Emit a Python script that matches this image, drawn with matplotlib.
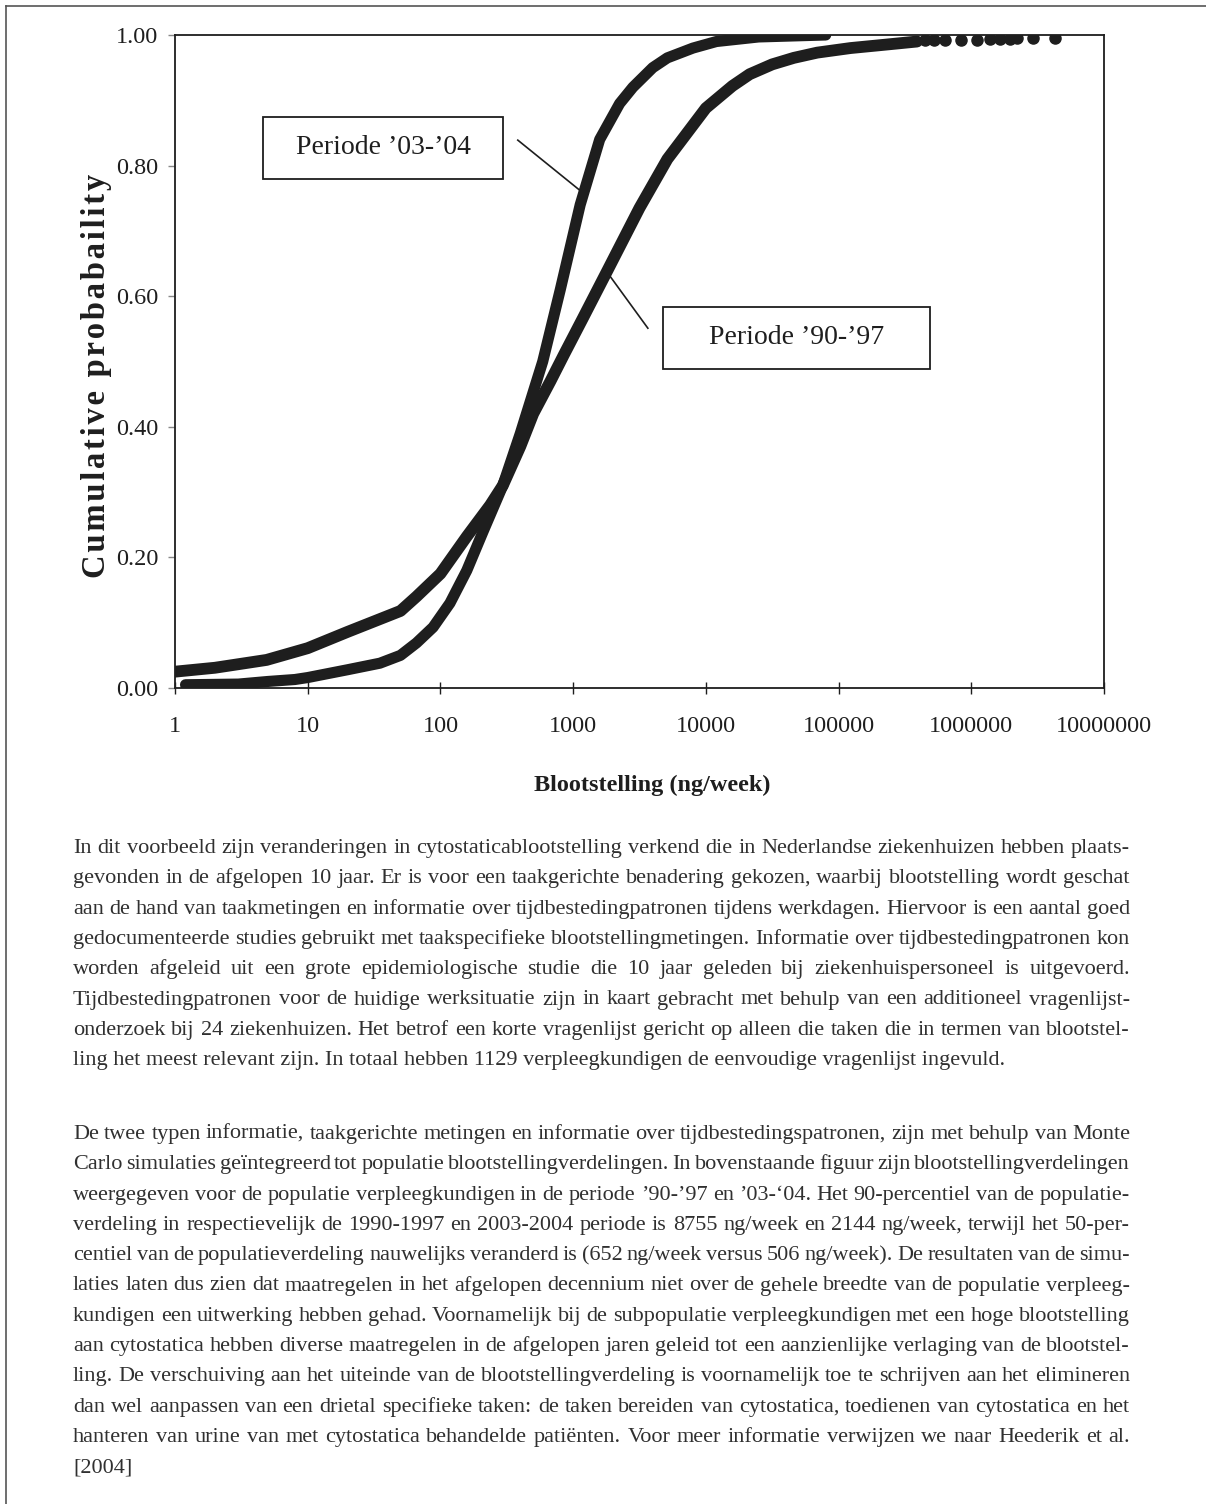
import matplotlib

matplotlib.use("Agg")
import matplotlib.pyplot as plt
from matplotlib.patches import Rectangle
from matplotlib.lines import Line2D

W, H, DPI = 1206, 1504, 100

# cumulative exposure distributions (ng/week -> probability)
EXPO_9097 = [1, 2, 4.9, 10, 20, 50, 66, 100, 158, 237, 295, 400, 500, 675,
             850, 1175, 1820, 3160, 5130, 10000, 15850, 21400, 31600, 46000,
             69000, 123000, 220000, 390000]
PROB_9097 = [0.025, 0.031, 0.043, 0.061, 0.086, 0.118, 0.140, 0.175, 0.232,
             0.280, 0.310, 0.370, 0.420, 0.470, 0.510, 0.565, 0.640, 0.735,
             0.810, 0.888, 0.922, 0.940, 0.955, 0.965, 0.973, 0.980, 0.985,
             0.990]
# sparse simulated points in the upper tail of '90-'97
TAIL_EXPO_9097 = [450000, 520000, 630000, 830000, 1100000, 1380000, 1650000,
                  1950000, 2200000, 2900000, 4300000]
TAIL_PROB_9097 = [0.992, 0.992, 0.993, 0.993, 0.993, 0.994, 0.994, 0.994,
                  0.995, 0.995, 0.995]

EXPO_0304 = [1.2, 3, 5, 8, 10, 20, 35, 50, 66, 88, 118, 158, 210, 295, 400,
             590, 800, 1130, 1585, 2240, 2820, 3980, 5130, 8000, 12000, 25000,
             80000]
PROB_0304 = [0.005, 0.006, 0.010, 0.013, 0.016, 0.028, 0.038, 0.050, 0.069,
             0.093, 0.130, 0.180, 0.240, 0.310, 0.390, 0.500, 0.610, 0.740,
             0.840, 0.895, 0.920, 0.950, 0.965, 0.980, 0.990, 0.997, 1.000]

X_TICKS = [1, 10, 100, 1000, 10000, 100000, 1000000, 10000000]
Y_TICKS = [0.0, 0.2, 0.4, 0.6, 0.8, 1.0]

LABEL_0304 = "Periode \u201903-\u201904"
LABEL_9097 = "Periode \u201990-\u201997"
Y_LABEL = "Cumulative probabaility"
X_LABEL = "Blootstelling (ng/week)"

PARA_1 = [
    "In dit voorbeeld zijn veranderingen in cytostaticablootstelling verkend die in Nederlandse ziekenhuizen hebben plaats-",
    "gevonden in de afgelopen 10 jaar. Er is voor een taakgerichte benadering gekozen, waarbij blootstelling wordt geschat",
    "aan de hand van taakmetingen en informatie over tijdbestedingpatronen tijdens werkdagen. Hiervoor is een aantal goed",
    "gedocumenteerde studies gebruikt met taakspecifieke blootstellingmetingen. Informatie over tijdbestedingpatronen kon",
    "worden afgeleid uit een grote epidemiologische studie die 10 jaar geleden bij ziekenhuispersoneel is uitgevoerd.",
    "Tijdbestedingpatronen voor de huidige werksituatie zijn in kaart gebracht met behulp van een additioneel vragenlijst-",
    "onderzoek bij 24 ziekenhuizen. Het betrof een korte vragenlijst gericht op alleen die taken die in termen van blootstel-",
    "ling het meest relevant zijn. In totaal hebben 1129 verpleegkundigen de eenvoudige vragenlijst ingevuld.",
]
PARA_2 = [
    "De twee typen informatie, taakgerichte metingen en informatie over tijdbestedingspatronen, zijn met behulp van Monte",
    "Carlo simulaties ge\u00efntegreerd tot populatie blootstellingverdelingen. In bovenstaande figuur zijn blootstellingverdelingen",
    "weergegeven voor de populatie verpleegkundigen in de periode \u201990-\u201997 en \u201903-\u201804. Het 90-percentiel van de populatie-",
    "verdeling in respectievelijk de 1990-1997 en 2003-2004 periode is 8755 ng/week en 2144 ng/week, terwijl het 50-per-",
    "centiel van de populatieverdeling nauwelijks veranderd is (652 ng/week versus 506 ng/week). De resultaten van de simu-",
    "laties laten dus zien dat maatregelen in het afgelopen decennium niet over de gehele breedte van de populatie verpleeg-",
    "kundigen een uitwerking hebben gehad. Voornamelijk bij de subpopulatie verpleegkundigen met een hoge blootstelling",
    "aan cytostatica hebben diverse maatregelen in de afgelopen jaren geleid tot een aanzienlijke verlaging van de blootstel-",
    "ling. De verschuiving aan het uiteinde van de blootstellingverdeling is voornamelijk toe te schrijven aan het elimineren",
    "dan wel aanpassen van een drietal specifieke taken: de taken bereiden van cytostatica, toedienen van cytostatica en het",
    "hanteren van urine van met cytostatica behandelde pati\u00ebnten. Voor meer informatie verwijzen we naar Heederik et al.",
    "[2004]",
]

SERIF = ["Liberation Serif", "DejaVu Serif"]
INK = "#1e1e1e"
TEXT_INK = "#303030"

# body text geometry (pixels, from the top-left of the page)
TEXT_LEFT, TEXT_RIGHT = 73, 1130
LINE_STEP = 30.3
PARA_1_BASELINE = 853
PARA_2_BASELINE = 1139
BODY_SIZE = 16


def draw_paragraph(fig, renderer, lines, first_baseline):
    """Justified paragraph: spread the words of every line but the last."""
    for i, line in enumerate(lines):
        y = 1 - (first_baseline + i * LINE_STEP) / H
        kw = dict(fontsize=BODY_SIZE, family=SERIF, color=TEXT_INK, va="baseline", ha="left")
        if i == len(lines) - 1:
            fig.text(TEXT_LEFT / W, y, line, **kw)
            continue
        words = line.split(" ")
        texts = [fig.text(0, y, w, **kw) for w in words]
        widths = [t.get_window_extent(renderer).width for t in texts]
        gap = (TEXT_RIGHT - TEXT_LEFT - sum(widths)) / (len(words) - 1)
        x = TEXT_LEFT
        for t, w in zip(texts, widths):
            t.set_x(x / W)
            x += w + gap


fig = plt.figure(figsize=(W / DPI, H / DPI), dpi=DPI)
renderer = fig.canvas.get_renderer()

ax_left, ax_right, ax_top, ax_bottom = 175, 1104, 35, 688
ax = fig.add_axes([ax_left / W, 1 - ax_bottom / H,
                   (ax_right - ax_left) / W, (ax_bottom - ax_top) / H])

ax.plot(EXPO_9097, PROB_9097, color=INK, lw=8.5, solid_capstyle="round",
        solid_joinstyle="round", zorder=3)
ax.plot(TAIL_EXPO_9097, TAIL_PROB_9097, "o", color=INK, ms=8, zorder=3)
ax.plot(EXPO_0304, PROB_0304, color=INK, lw=8, solid_capstyle="round",
        solid_joinstyle="round", zorder=3)

ax.set_xscale("log")
ax.set_xlim(1, 1e7)
ax.set_ylim(0, 1)
ax.set_xticks(X_TICKS)
ax.set_xticklabels([f"{v:d}" for v in X_TICKS])
ax.minorticks_off()
ax.set_yticks(Y_TICKS)
ax.set_yticklabels([f"{v:.2f}" for v in Y_TICKS])
ax.tick_params(axis="x", direction="inout", length=8, width=1, color=INK,
               pad=16, labelsize=17.5, labelcolor=INK)
ax.tick_params(axis="y", direction="out", length=5, width=1, color="#888888",
               pad=7, labelsize=17.5, labelcolor=INK)
for lab in ax.get_xticklabels() + ax.get_yticklabels():
    lab.set_family(SERIF)
for sp in ax.spines.values():
    sp.set_linewidth(1.3)
    sp.set_color(INK)

# label boxes with leader lines (axes fraction)
ax.add_patch(Rectangle((0.0947, 0.7795), 0.2583, 0.0949, transform=ax.transAxes,
                       fill=False, lw=1.3, ec=INK, zorder=4))
ax.text(0.224, 0.827, LABEL_0304, transform=ax.transAxes, ha="center", va="center",
        fontsize=20, family=SERIF, color=INK, zorder=5)
ax.add_line(Line2D([0.369, 0.438], [0.839, 0.7596], transform=ax.transAxes,
                   color=INK, lw=1.2, zorder=4))

ax.add_patch(Rectangle((0.5253, 0.4885), 0.2874, 0.0950, transform=ax.transAxes,
                       fill=False, lw=1.3, ec=INK, zorder=4))
ax.text(0.6695, 0.536, LABEL_9097, transform=ax.transAxes, ha="center", va="center",
        fontsize=20, family=SERIF, color=INK, zorder=5)
ax.add_line(Line2D([0.465, 0.509], [0.637, 0.551], transform=ax.transAxes,
                   color=INK, lw=1.2, zorder=4))

# the scan's axis title is letter-spaced; hair spaces mimic that
spaced_ylabel = "\u200a".join(Y_LABEL)
fig.text(97 / W, 1 - 376 / H, spaced_ylabel, rotation=90,
         ha="center", va="center", fontsize=23.5, fontweight="bold", family=SERIF,
         color=INK)
fig.text(652 / W, 1 - 785 / H, X_LABEL, ha="center",
         va="center", fontsize=17.5, fontweight="bold", family=SERIF, color=INK)

# scanned page frame
fig.add_artist(Line2D([6 / W, 6 / W], [0, 1 - 6 / H], transform=fig.transFigure,
                      color="#555555", lw=1.2))
fig.add_artist(Line2D([6 / W, 1], [1 - 6 / H, 1 - 6 / H], transform=fig.transFigure,
                      color="#555555", lw=1.2))

draw_paragraph(fig, renderer, PARA_1, PARA_1_BASELINE)
draw_paragraph(fig, renderer, PARA_2, PARA_2_BASELINE)

fig.savefig("out.png", dpi=DPI)
